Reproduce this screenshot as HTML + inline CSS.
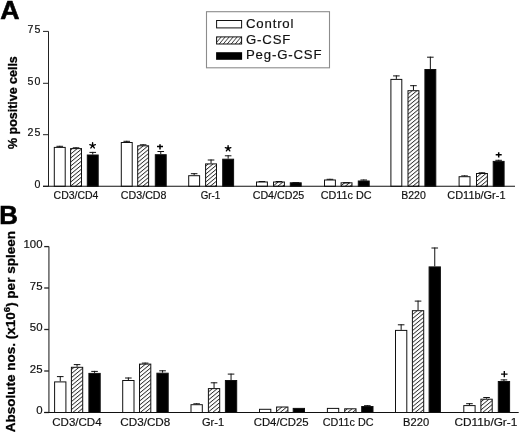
<!DOCTYPE html>
<html><head><meta charset="utf-8"><title>figure</title>
<style>
html,body{margin:0;padding:0;background:#fff;}
body{width:520px;height:434px;overflow:hidden;}
svg{display:block;filter:blur(0.3px);}
text{font-family:"Liberation Sans", sans-serif;fill:#111;stroke:#111;stroke-width:0.18px;}
text.bd{stroke:#000;stroke-width:0.3px;fill:#000;font-weight:bold;}
text.big{stroke-width:0.6px;}
</style></head><body>
<svg width="520" height="434" viewBox="0 0 520 434">
<defs>
<pattern id="hb" patternUnits="userSpaceOnUse" width="10" height="3.08" patternTransform="rotate(-39.7)">
<rect x="0" y="0" width="10" height="0.85" fill="#2a2a2a"/>
</pattern>
<pattern id="hl" patternUnits="userSpaceOnUse" width="10" height="3.06" patternTransform="rotate(-50)">
<rect x="0" y="0" width="10" height="0.8" fill="#3a3a3a"/>
</pattern>
</defs>
<rect width="520" height="434" fill="#fff"/>

<path d="M48.5,31.4V186.3" stroke="#222" stroke-width="1.0" fill="none"/>
<path d="M43.0,31.4H48.5" stroke="#222" stroke-width="1.0"/>
<text x="41.4" y="33.10" font-size="10.6" letter-spacing="1.0" text-anchor="end">75</text>
<path d="M43.0,83.3H48.5" stroke="#222" stroke-width="1.0"/>
<text x="41.4" y="85.00" font-size="10.6" letter-spacing="1.0" text-anchor="end">50</text>
<path d="M43.0,134.7H48.5" stroke="#222" stroke-width="1.0"/>
<text x="41.4" y="136.40" font-size="10.6" letter-spacing="1.0" text-anchor="end">25</text>
<path d="M43.0,186.3H48.5" stroke="#222" stroke-width="1.0"/>
<text x="41.4" y="188.00" font-size="10.6" letter-spacing="1.0" text-anchor="end">0</text>
<path d="M59.75,146.90V145.80M56.45,146.30H63.05" stroke="#111" stroke-width="1"/><rect x="54.30" y="147.40" width="10.90" height="38.90" fill="#fff" stroke="#111" stroke-width="1.0"/>
<path d="M76.05,148.10V147.30M72.75,147.80H79.35" stroke="#111" stroke-width="1"/><rect x="70.60" y="148.60" width="10.90" height="37.70" fill="url(#hb)" stroke="#111" stroke-width="1.0"/>
<path d="M92.75,154.50V151.90M89.45,152.40H96.05" stroke="#111" stroke-width="1"/><rect x="87.30" y="155.00" width="10.90" height="31.30" fill="#000" stroke="#111" stroke-width="1.0"/>
<path d="M126.75,142.00V140.80M123.45,141.30H130.05" stroke="#111" stroke-width="1"/><rect x="121.30" y="142.50" width="10.90" height="43.80" fill="#fff" stroke="#111" stroke-width="1.0"/>
<path d="M143.15,145.30V144.30M139.85,144.80H146.45" stroke="#111" stroke-width="1"/><rect x="137.70" y="145.80" width="10.90" height="40.50" fill="url(#hb)" stroke="#111" stroke-width="1.0"/>
<path d="M160.75,154.20V151.00M157.45,151.50H164.05" stroke="#111" stroke-width="1"/><rect x="155.30" y="154.70" width="10.90" height="31.60" fill="#000" stroke="#111" stroke-width="1.0"/>
<path d="M194.15,175.20V173.20M190.85,173.70H197.45" stroke="#111" stroke-width="1"/><rect x="188.70" y="175.70" width="10.90" height="10.60" fill="#fff" stroke="#111" stroke-width="1.0"/>
<path d="M211.05,163.40V159.50M207.75,160.00H214.35" stroke="#111" stroke-width="1"/><rect x="205.60" y="163.90" width="10.90" height="22.40" fill="url(#hb)" stroke="#111" stroke-width="1.0"/>
<path d="M228.15,158.70V155.30M224.85,155.80H231.45" stroke="#111" stroke-width="1"/><rect x="222.70" y="159.20" width="10.90" height="27.10" fill="#000" stroke="#111" stroke-width="1.0"/>
<path d="M261.95,181.50V181.00M258.65,181.50H265.25" stroke="#111" stroke-width="1"/><rect x="256.50" y="182.00" width="10.90" height="4.30" fill="#fff" stroke="#111" stroke-width="1.0"/>
<path d="M278.95,181.50V181.00M275.65,181.50H282.25" stroke="#111" stroke-width="1"/><rect x="273.50" y="182.00" width="10.90" height="4.30" fill="url(#hb)" stroke="#111" stroke-width="1.0"/>
<path d="M292.45,182.70H299.05" stroke="#111" stroke-width="1.2"/><rect x="290.30" y="182.80" width="10.90" height="3.50" fill="#000" stroke="#111" stroke-width="1.0"/>
<path d="M329.95,179.50V178.80M326.65,179.30H333.25" stroke="#111" stroke-width="1"/><rect x="324.50" y="180.00" width="10.90" height="6.30" fill="#fff" stroke="#111" stroke-width="1.0"/>
<path d="M343.25,182.70H349.85" stroke="#111" stroke-width="1.2"/><rect x="341.10" y="182.80" width="10.90" height="3.50" fill="url(#hb)" stroke="#111" stroke-width="1.0"/>
<path d="M363.75,180.50V179.50M360.45,180.00H367.05" stroke="#111" stroke-width="1"/><rect x="358.30" y="181.00" width="10.90" height="5.30" fill="#000" stroke="#111" stroke-width="1.0"/>
<path d="M396.35,78.90V75.40M393.05,75.90H399.65" stroke="#111" stroke-width="1"/><rect x="390.90" y="79.40" width="10.90" height="106.90" fill="#fff" stroke="#111" stroke-width="1.0"/>
<path d="M413.45,90.20V85.20M410.15,85.70H416.75" stroke="#111" stroke-width="1"/><rect x="408.00" y="90.70" width="10.90" height="95.60" fill="url(#hb)" stroke="#111" stroke-width="1.0"/>
<path d="M430.35,69.00V56.70M427.05,57.20H433.65" stroke="#111" stroke-width="1"/><rect x="424.90" y="69.50" width="10.90" height="116.80" fill="#000" stroke="#111" stroke-width="1.0"/>
<path d="M464.55,176.20V175.40M461.25,175.90H467.85" stroke="#111" stroke-width="1"/><rect x="459.10" y="176.70" width="10.90" height="9.60" fill="#fff" stroke="#111" stroke-width="1.0"/>
<path d="M481.95,173.00V172.30M478.65,172.80H485.25" stroke="#111" stroke-width="1"/><rect x="476.50" y="173.50" width="10.90" height="12.80" fill="url(#hb)" stroke="#111" stroke-width="1.0"/>
<path d="M498.65,160.90V159.80M495.35,160.30H501.95" stroke="#111" stroke-width="1"/><rect x="493.20" y="161.40" width="10.90" height="24.90" fill="#000" stroke="#111" stroke-width="1.0"/>
<path d="M43.0,186.3H515.0" stroke="#111" stroke-width="1.1"/>
<text x="53.60" y="199.2" font-size="10.4" textLength="44.80" lengthAdjust="spacingAndGlyphs">CD3/CD4</text>
<text x="120.80" y="199.2" font-size="10.4" textLength="45.70" lengthAdjust="spacingAndGlyphs">CD3/CD8</text>
<text x="200.70" y="199.2" font-size="10.4" textLength="19.60" lengthAdjust="spacingAndGlyphs">Gr-1</text>
<text x="252.70" y="199.2" font-size="10.4" textLength="51.60" lengthAdjust="spacingAndGlyphs">CD4/CD25</text>
<text x="320.70" y="199.2" font-size="10.4" textLength="50.80" lengthAdjust="spacingAndGlyphs">CD11c DC</text>
<text x="401.20" y="199.2" font-size="10.4" textLength="24.60" lengthAdjust="spacingAndGlyphs">B220</text>
<text x="447.30" y="199.2" font-size="10.4" textLength="58.20" lengthAdjust="spacingAndGlyphs">CD11b/Gr-1</text>
<path d="M48.9,246.6V412.5" stroke="#555" stroke-width="1.4" fill="none"/>
<path d="M44.2,246.6H48.9" stroke="#222" stroke-width="1.3"/>
<text x="42.5" y="248.30" font-size="11.4" letter-spacing="0" text-anchor="end">100</text>
<path d="M44.2,288.0H48.9" stroke="#222" stroke-width="1.3"/>
<text x="42.5" y="289.70" font-size="11.4" letter-spacing="0" text-anchor="end">75</text>
<path d="M44.2,329.5H48.9" stroke="#222" stroke-width="1.3"/>
<text x="42.5" y="331.20" font-size="11.4" letter-spacing="0" text-anchor="end">50</text>
<path d="M44.2,371.0H48.9" stroke="#222" stroke-width="1.3"/>
<text x="42.5" y="372.70" font-size="11.4" letter-spacing="0" text-anchor="end">25</text>
<path d="M44.2,412.5H48.9" stroke="#222" stroke-width="1.3"/>
<text x="42.5" y="414.20" font-size="11.4" letter-spacing="0" text-anchor="end">0</text>
<path d="M60.25,381.40V376.10M56.95,376.60H63.55" stroke="#111" stroke-width="1"/><rect x="54.60" y="381.90" width="11.30" height="30.60" fill="#fff" stroke="#111" stroke-width="1.0"/>
<path d="M77.05,366.80V364.10M73.75,364.60H80.35" stroke="#111" stroke-width="1"/><rect x="71.40" y="367.30" width="11.30" height="45.20" fill="url(#hb)" stroke="#111" stroke-width="1.0"/>
<path d="M94.55,372.90V370.90M91.25,371.40H97.85" stroke="#111" stroke-width="1"/><rect x="88.90" y="373.40" width="11.30" height="39.10" fill="#000" stroke="#111" stroke-width="1.0"/>
<path d="M128.35,380.00V377.50M125.05,378.00H131.65" stroke="#111" stroke-width="1"/><rect x="122.70" y="380.50" width="11.30" height="32.00" fill="#fff" stroke="#111" stroke-width="1.0"/>
<path d="M145.15,363.60V362.60M141.85,363.10H148.45" stroke="#111" stroke-width="1"/><rect x="139.50" y="364.10" width="11.30" height="48.40" fill="url(#hb)" stroke="#111" stroke-width="1.0"/>
<path d="M162.55,372.70V370.30M159.25,370.80H165.85" stroke="#111" stroke-width="1"/><rect x="156.90" y="373.20" width="11.30" height="39.30" fill="#000" stroke="#111" stroke-width="1.0"/>
<path d="M196.65,404.20V403.30M193.35,403.80H199.95" stroke="#111" stroke-width="1"/><rect x="191.00" y="404.70" width="11.30" height="7.80" fill="#fff" stroke="#111" stroke-width="1.0"/>
<path d="M214.05,388.10V382.30M210.75,382.80H217.35" stroke="#111" stroke-width="1"/><rect x="208.40" y="388.60" width="11.30" height="23.90" fill="url(#hb)" stroke="#111" stroke-width="1.0"/>
<path d="M231.05,380.00V373.60M227.75,374.10H234.35" stroke="#111" stroke-width="1"/><rect x="225.40" y="380.50" width="11.30" height="32.00" fill="#000" stroke="#111" stroke-width="1.0"/>
<rect x="259.50" y="409.30" width="11.30" height="3.20" fill="#fff" stroke="#111" stroke-width="1.0"/>
<rect x="276.60" y="407.00" width="11.30" height="5.50" fill="url(#hb)" stroke="#111" stroke-width="1.0"/>
<rect x="293.20" y="408.40" width="11.30" height="4.10" fill="#000" stroke="#111" stroke-width="1.0"/>
<rect x="327.40" y="408.40" width="11.30" height="4.10" fill="#fff" stroke="#111" stroke-width="1.0"/>
<rect x="344.70" y="408.80" width="11.30" height="3.70" fill="url(#hb)" stroke="#111" stroke-width="1.0"/>
<path d="M367.35,406.00V405.20M364.05,405.70H370.65" stroke="#111" stroke-width="1"/><rect x="361.70" y="406.50" width="11.30" height="6.00" fill="#000" stroke="#111" stroke-width="1.0"/>
<path d="M401.15,329.90V324.30M397.85,324.80H404.45" stroke="#111" stroke-width="1"/><rect x="395.50" y="330.40" width="11.30" height="82.10" fill="#fff" stroke="#111" stroke-width="1.0"/>
<path d="M418.05,310.20V300.60M414.75,301.10H421.35" stroke="#111" stroke-width="1"/><rect x="412.40" y="310.70" width="11.30" height="101.80" fill="url(#hb)" stroke="#111" stroke-width="1.0"/>
<path d="M434.75,266.40V247.50M431.45,248.00H438.05" stroke="#111" stroke-width="1"/><rect x="429.10" y="266.90" width="11.30" height="145.60" fill="#000" stroke="#111" stroke-width="1.0"/>
<path d="M469.45,405.10V403.20M466.15,403.70H472.75" stroke="#111" stroke-width="1"/><rect x="463.80" y="405.60" width="11.30" height="6.90" fill="#fff" stroke="#111" stroke-width="1.0"/>
<path d="M486.55,398.70V397.00M483.25,397.50H489.85" stroke="#111" stroke-width="1"/><rect x="480.90" y="399.20" width="11.30" height="13.30" fill="url(#hb)" stroke="#111" stroke-width="1.0"/>
<path d="M503.95,381.00V379.40M500.65,379.90H507.25" stroke="#111" stroke-width="1"/><rect x="498.30" y="381.50" width="11.30" height="31.00" fill="#000" stroke="#111" stroke-width="1.0"/>
<path d="M44.2,412.5H518.7" stroke="#111" stroke-width="1.1"/>
<text x="52.30" y="426.4" font-size="11.3" textLength="49.30" lengthAdjust="spacingAndGlyphs">CD3/CD4</text>
<text x="120.30" y="426.4" font-size="11.3" textLength="50.00" lengthAdjust="spacingAndGlyphs">CD3/CD8</text>
<text x="202.00" y="426.4" font-size="11.3" textLength="22.10" lengthAdjust="spacingAndGlyphs">Gr-1</text>
<text x="253.70" y="426.4" font-size="11.3" textLength="55.00" lengthAdjust="spacingAndGlyphs">CD4/CD25</text>
<text x="322.70" y="426.4" font-size="11.3" textLength="50.80" lengthAdjust="spacingAndGlyphs">CD11c DC</text>
<text x="403.10" y="426.4" font-size="11.3" textLength="26.00" lengthAdjust="spacingAndGlyphs">B220</text>
<text x="454.50" y="426.4" font-size="11.3" textLength="62.80" lengthAdjust="spacingAndGlyphs">CD11b/Gr-1</text>
<text x="0.3" y="19.0" font-size="26.7" class="bd big" fill="#000">A</text>
<text x="-0.7" y="224.1" font-size="25.8" class="bd big" fill="#000">B</text>
<text transform="translate(17.0,149.0) rotate(-90)" font-size="12.9" class="bd" textLength="92.8" lengthAdjust="spacingAndGlyphs">% positive cells</text>
<text transform="translate(15.2,432.2) rotate(-90)" font-size="13.5" class="bd">Absolute nos. (x10<tspan font-size="9.5" dy="-4.8">6</tspan><tspan dy="4.8">) per spleen</tspan></text>
<path d="M92.60,145.60L92.60,142.70M92.60,145.60L95.36,144.70M92.60,145.60L94.30,147.95M92.60,145.60L90.90,147.95M92.60,145.60L89.84,144.70" stroke="#000" stroke-width="1.4" stroke-linecap="round" fill="none"/>
<path d="M157.00,146.60H163.00M160.00,144.30V149.40" stroke="#000" stroke-width="1.5"/>
<path d="M228.10,148.50L228.10,145.60M228.10,148.50L230.86,147.60M228.10,148.50L229.80,150.85M228.10,148.50L226.40,150.85M228.10,148.50L225.34,147.60" stroke="#000" stroke-width="1.4" stroke-linecap="round" fill="none"/>
<path d="M495.70,154.80H501.70M498.70,152.30V157.60" stroke="#000" stroke-width="1.5"/>
<path d="M501.05,374.10H507.55M504.30,371.00V377.30" stroke="#000" stroke-width="1.35"/>
<rect x="206.5" y="11.7" width="123" height="56.1" fill="#fff" stroke="#8c8c8c" stroke-width="1.1"/>
<rect x="216.6" y="20.5" width="25" height="7.4" fill="#fff" stroke="#111" stroke-width="1"/>
<rect x="216.6" y="36.9" width="25" height="7.1" fill="url(#hl)" stroke="#111" stroke-width="1"/>
<rect x="216.1" y="52.2" width="26" height="7.6" fill="#000"/>
<text x="246" y="28.1" font-size="13.2" letter-spacing="0.82">Control</text>
<text x="246" y="44.0" font-size="13.2" letter-spacing="0.82">G-CSF</text>
<text x="246" y="59.4" font-size="13.2" letter-spacing="0.82">Peg-G-CSF</text>
</svg></body></html>
